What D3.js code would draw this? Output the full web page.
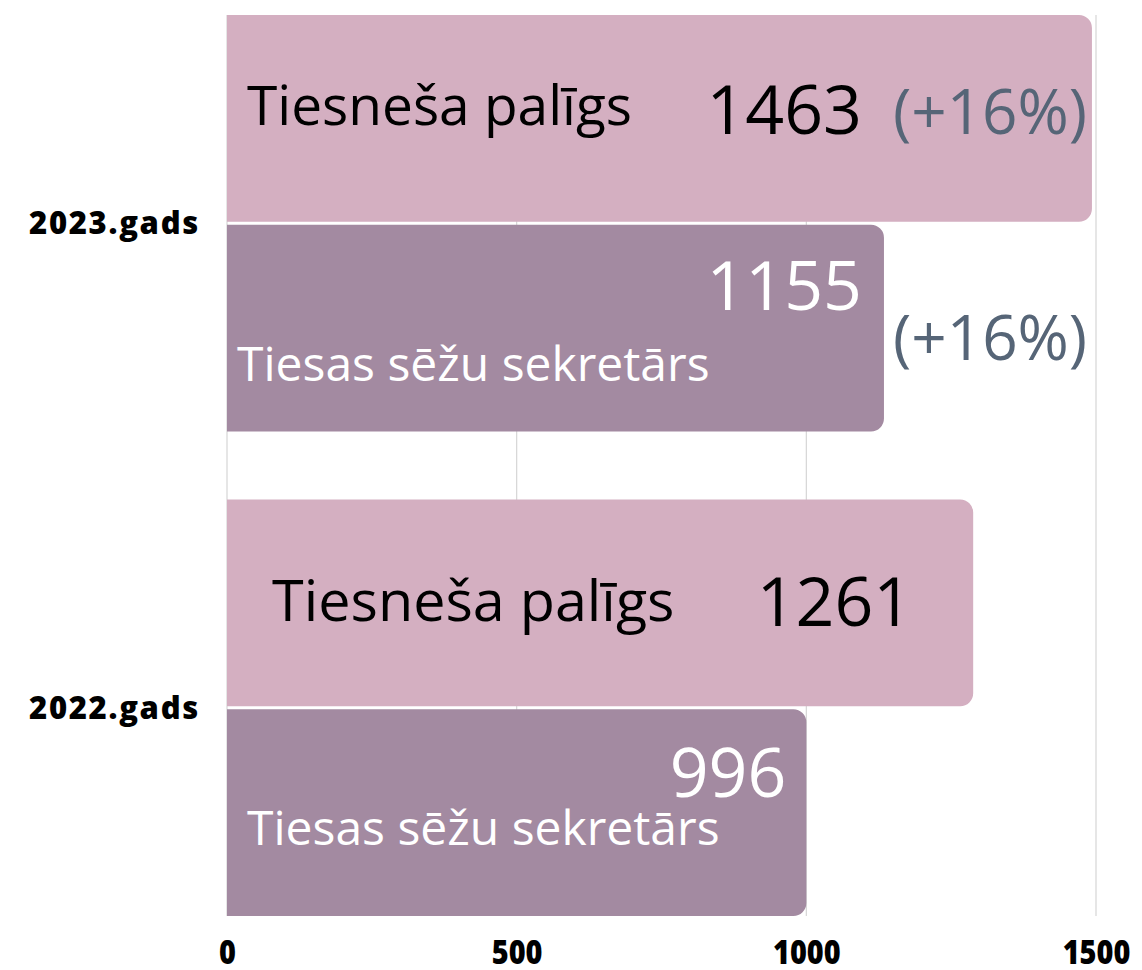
<!DOCTYPE html>
<html>
<head>
<meta charset="utf-8">
<script src="https://cdn.jsdelivr.net/npm/d3@7"></script>
<style>
  body { margin: 0; background: #fff; }
  svg { display: block; font-family: "Open Sans", sans-serif; }
</style>
</head>
<body>
<div id="chart"></div>
<script>
// Data
const years = ["2023.gads", "2022.gads"];
const roles = ["Tiesneša palīgs", "Tiesas sēžu sekretārs"];
// bar lengths as drawn in the picture
const barValues2023 = [1493, 1134];
const barValues2022 = [1288, 1000];
// numbers printed on the bars
const labels2023 = ["1463", "1155"];
const labels2022 = ["1261", "996"];
const change2023 = ["(+16%)", "(+16%)"];
const change2022 = ["", ""];
const tickValues = [0, 500, 1000, 1500];

const rows = [
  {year: years[0], values: barValues2023, labels: labels2023, change: change2023},
  {year: years[1], values: barValues2022, labels: labels2022, change: change2022},
];

// label placement per bar (hand placed like the original)
// [dx, dy, font size, colour]
const layout = [
  [
    {name: [20, 7, 55, "#000"], num: [-230, 16, 68, "#000"], pct: [-199, 16, 62]},
    {name: [10, 53, 48, "#fff"], num: [-22, -18, 68, "#fff"], pct: [9, 32, 62]},
  ],
  [
    {name: [45, 18, 57.5, "#000"], num: [-61, 23, 68, "#000"]},
    {name: [20, 32, 48, "#fff"], num: [-20, -16, 68, "#fff"]},
  ],
];

const colors = ["#d4afc1", "#a38aa1"];

const W = 1142, H = 970;
const svg = d3.select("#chart").append("svg").attr("width", W).attr("height", H);

const x = d3.scaleLinear().domain([0, 1500]).range([227, 1096]);
const y = d3.scaleBand().domain(years).range([15, 916]).paddingInner(0.14);
const y2 = d3.scaleBand().domain(roles).range([0, y.bandwidth()]).paddingInner(0.014);

// grid lines
svg.append("g")
  .selectAll("line")
  .data(tickValues)
  .join("line")
  .attr("x1", (d) => x(d))
  .attr("x2", (d) => x(d))
  .attr("y1", 15)
  .attr("y2", 916)
  .attr("stroke", "#d6d6d6")
  .attr("stroke-width", 1.2);

// bar with rounded right corners only
function barPath(x0, x1, y0, h, r) {
  return `M${x0},${y0}H${x1 - r}A${r},${r} 0 0 1 ${x1},${y0 + r}V${y0 + h - r}A${r},${r} 0 0 1 ${x1 - r},${y0 + h}H${x0}Z`;
}

rows.forEach((row, gi) => {
  const g = svg.append("g").attr("transform", `translate(0,${y(row.year)})`);
  roles.forEach((role, i) => {
    const x0 = x(0), x1 = x(row.values[i]);
    const top = y2(role), h = y2.bandwidth();
    const cy = top + h / 2;
    g.append("path")
      .attr("d", barPath(x0, x1, top, h, 13))
      .attr("fill", colors[i]);

    const L = layout[gi][i];
    g.append("text")
      .attr("x", x0 + L.name[0])
      .attr("y", cy + L.name[1])
      .style("font-size", L.name[2] + "px")
      .attr("fill", L.name[3])
      .text(role);

    g.append("text")
      .attr("x", x1 + L.num[0])
      .attr("y", cy + L.num[1])
      .attr("text-anchor", "end")
      .style("font-size", L.num[2] + "px")
      .attr("fill", L.num[3])
      .text(row.labels[i]);

    if (row.change[i] && L.pct) {
      g.append("text")
        .attr("x", x1 + L.pct[0])
        .attr("y", cy + L.pct[1])
        .style("font-size", L.pct[2] + "px")
        .attr("fill", "#566577")
        .text(row.change[i]);
    }
  });
});

// year labels
svg.append("g")
  .selectAll("text")
  .data(years)
  .join("text")
  .attr("x", 200)
  .attr("y", (d) => y(d) + y.bandwidth() / 2 + 11)
  .attr("text-anchor", "end")
  .style("font-size", "31px")
  .style("font-weight", 800)
  .style("letter-spacing", "1.7px")
  .attr("fill", "#000")
  .text((d) => d);

// x axis
const xAxis = svg.append("g")
  .attr("transform", "translate(0,916)")
  .call(d3.axisBottom(x).tickValues(tickValues).tickFormat(d3.format("d")).tickSize(0).tickPadding(0))
  .call((g) => g.select(".domain").remove());

xAxis.selectAll("text")
  .attr("x", 0)
  .attr("y", 48)
  .attr("dy", null)
  .style("font-family", "'Open Sans', sans-serif")
  .style("font-size", "34px")
  .style("font-weight", 800)
  .attr("fill", "#000")
  .attr("transform", "scale(0.85,1)");
</script>
</body>
</html>
